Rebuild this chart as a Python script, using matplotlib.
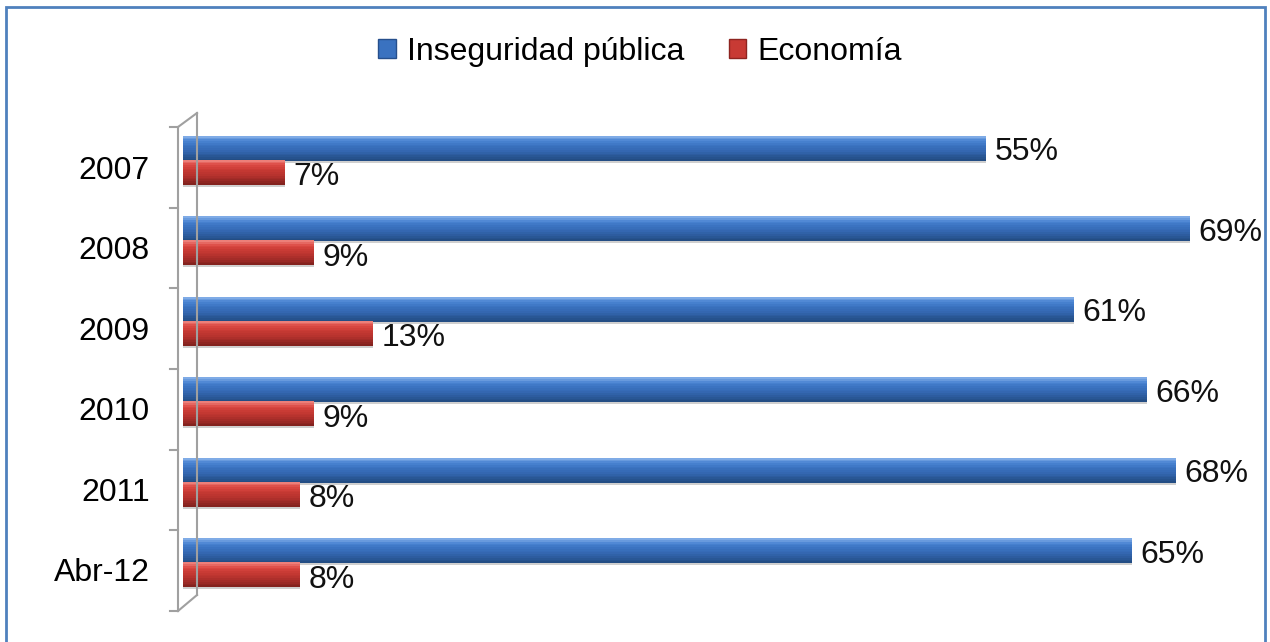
import numpy as np
import matplotlib.pyplot as plt
from matplotlib.lines import Line2D
from matplotlib.patches import Rectangle
from matplotlib.colors import to_rgb

plt.rcParams['font.family'] = ['Liberation Sans', 'DejaVu Sans']

categories = ['2007', '2008', '2009', '2010', '2011', 'Abr-12']
inseguridad = [55, 69, 61, 66, 68, 65]
economia = [7, 9, 13, 9, 8, 8]
series_names = ['Inseguridad pública', 'Economía']

W, H = 1270, 642
fig = plt.figure(figsize=(12.7, 6.42), dpi=100)

def fx(px):
    return px / W

def fy(py):
    return 1 - py / H

# plot area: bars start at x=183, category band from y=127 to 610
left, right, top, bottom = 183, 1250, 127, 610
ax = fig.add_axes([fx(left), fy(bottom), fx(right - left), (bottom - top) / H])
px_per_pct = 14.6
ax.set_xlim(0, (right - left) / px_per_pct)
ax.set_ylim(len(categories) - 0.5, -0.5)

y = np.arange(len(categories))
h = 0.31
blue_c = '#3a72c0'
red_c = '#c83a34'
fs = 23

def cyl_bars(ypos, vals, stops):
    # soft shadow then a vertical gradient built from thin slices
    ax.barh(ypos + 0.025, vals, height=h, color='#cfcfcf', zorder=1)
    n = 14
    pos = np.linspace(0, 1, len(stops))
    cols = np.array([to_rgb(c) for c in stops])
    for i in range(n):
        t = (i + 0.5) / n
        c = [np.interp(t, pos, cols[:, k]) for k in range(3)]
        yc = ypos - h / 2 + h * t
        ax.barh(yc, vals, height=h / n * 1.05, color=c, linewidth=0, zorder=2)

blue_stops = ['#8ab4ea', '#4a84d2', '#3a72c0', '#3468b2', '#2a5898', '#214a80']
red_stops = ['#f08a84', '#dc4a44', '#c83a34', '#b8332e', '#9c2a26', '#7e201c']
cyl_bars(y - 0.236, inseguridad, blue_stops)
cyl_bars(y + 0.062, economia, red_stops)

for yi, v in zip(y, inseguridad):
    ax.annotate(f'{v}%', (v, yi - 0.236), xytext=(6, -3), textcoords='offset points',
                va='center', ha='left', fontsize=fs, color='#111111', annotation_clip=False)
for yi, v in zip(y, economia):
    ax.annotate(f'{v}%', (v, yi + 0.09), xytext=(6, -2), textcoords='offset points',
                va='center', ha='left', fontsize=fs, color='#111111', annotation_clip=False)

ax.set_yticks(y)
ax.set_yticklabels(categories, fontsize=fs)
ax.tick_params(axis='y', length=0, pad=24)
ax.set_xticks([])
for s in ax.spines.values():
    s.set_visible(False)

# 3D axis wall
gray = '#a0a0a0'
wall = [((178, 127), (178, 611)), ((197, 113), (197, 595)),
        ((178, 127), (197, 113)), ((178, 611), (197, 595))]
for (x0, y0), (x1, y1) in wall:
    fig.add_artist(Line2D([fx(x0), fx(x1)], [fy(y0), fy(y1)], color=gray, lw=1.5))
for k in range(len(categories) + 1):
    ty = top + (611 - top) * k / len(categories)
    fig.add_artist(Line2D([fx(170), fx(178)], [fy(ty), fy(ty)], color=gray, lw=1.5))

# legend
handles = [Rectangle((0, 0), 1, 1, facecolor=blue_c, edgecolor='#264f8c'),
           Rectangle((0, 0), 1, 1, facecolor=red_c, edgecolor='#8e2420')]
fig.legend(handles, series_names, loc='upper center', bbox_to_anchor=(0.504, fy(8)),
           ncol=2, frameon=False, fontsize=fs, handlelength=0.55, handleheight=0.55,
           handletextpad=0.35, columnspacing=1.4)

# outer border
fig.add_artist(Rectangle((fx(6), fy(660)), fx(1265 - 6), (660 - 7) / H,
                         fill=False, edgecolor='#4f81bd', lw=2, transform=fig.transFigure))

fig.savefig('out.png', dpi=100)
